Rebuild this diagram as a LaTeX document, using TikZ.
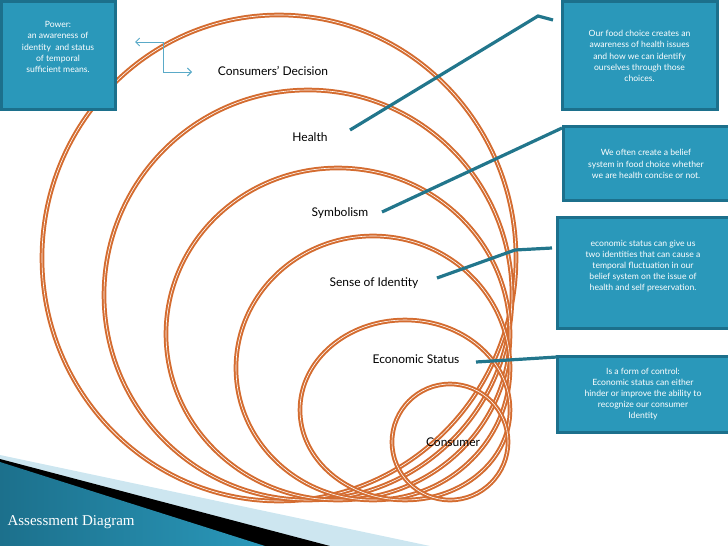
\documentclass[tikz,border=0pt]{standalone}
\usepackage{fontspec}
\setmainfont{Lato}
\usetikzlibrary{arrows.meta}
\definecolor{orng}{RGB}{212,108,48}
\definecolor{teal1}{RGB}{42,152,186}
\definecolor{teal2}{RGB}{28,112,140}
\definecolor{lnk}{RGB}{34,118,140}
\definecolor{arr}{RGB}{90,170,200}
\definecolor{lb}{RGB}{205,230,240}
\begin{document}
\begin{tikzpicture}[x=1pt,y=-1pt,
  ring/.style={draw=orng,line width=2pt,double=white,double distance=0.6pt},
  lbl/.style={font=\fontsize{12}{14}\selectfont,text=black},
  frame/.style={fill=teal1,draw=teal2,line width=3pt},
  btxt/.style={text=white,align=center,font=\fontsize{8.6}{11.2}\selectfont},
  link/.style={draw=lnk,line width=3.2pt}]
\useasboundingbox (0,0) rectangle (728,546);
% banner
\fill[lb] (0,455) -- (430,546) -- (0,546) -- cycle;
\fill[black] (0,459) -- (330,546) -- (0,546) -- cycle;
\shade[left color=teal2,right color=teal1] (0,462) -- (265,546) -- (0,546) -- cycle;
\node[text=white,font=\fontsize{15}{17}\selectfont,anchor=west] (title) at (4,522) {\setmainfont{Liberation Serif}\selectfont Assessment Diagram};
% rings
\draw[ring] (279,258) ellipse [x radius=237,y radius=243];
\draw[ring] (308,295) ellipse [x radius=204,y radius=205];
\draw[ring] (338,334) ellipse [x radius=172,y radius=166];
\draw[ring] (373,368) ellipse [x radius=137,y radius=132];
\draw[ring] (405,410) ellipse [x radius=105,y radius=90];
\draw[ring] (450,442) ellipse [x radius=58,y radius=58];
% labels
\node[lbl] (cd) at (273,71) {Consumers' Decision};
\node[lbl] (he) at (310,137) {Health};
\node[lbl] (sy) at (340,213) {Symbolism};
\node[lbl] (si) at (374,283) {Sense of Identity};
\node[lbl] (es) at (416,359) {Economic Status};
\node[lbl] (co) at (453,442) {Consumer};
% boxes
\draw[frame] (1.5,1.5) rectangle (115,109);
\node[btxt] (b0) at (58,47) {Power:\\ an awareness of\\ identity~ and status\\ of temporal\\ sufficient means.};
\draw[frame] (562,1.5) rectangle (717,109);
\node[btxt] (b1) at (639.5,56) {Our food choice creates an\\ awareness of health issues\\ and how we can identify\\ ourselves through those\\ choices.};
\draw[frame] (563,126) rectangle (729,200);
\node[btxt] (b2) at (646,164) {We often create a belief\\ system in food choice whether\\ we are health concise or not.};
\draw[frame] (557,217) rectangle (729,328);
\node[btxt] (b3) at (643,266) {economic status can give us\\ two identities that can cause a\\ temporal fluctuation in our\\ belief system on the issue of\\ health and self preservation.};
\draw[frame] (557,356) rectangle (729,432);
\node[btxt] (b4) at (643,394) {Is a form of control:\\ Economic status can either\\ hinder or improve the ability to\\ recognize our consumer\\ Identity};
% links
\coordinate (h0) at (350,130); \coordinate (h1) at (538,16); \coordinate (h2) at (553,20);
\draw[link] (h0) -- (h1) -- (h2);
\coordinate (s0) at (382,212); \coordinate (s1) at (562,128);
\draw[link] (s0) -- (s1);
\coordinate (i0) at (437,278); \coordinate (i1) at (515,250); \coordinate (i2) at (552,248);
\draw[link] (i0) -- (i1) -- (i2);
\coordinate (e0) at (476,362); \coordinate (e1) at (557,357);
\draw[link] (e0) -- (e1);
% arrow
\coordinate (a0) at (135,42); \coordinate (a1) at (163,42); \coordinate (a2) at (163,72); \coordinate (a3) at (192,72);
\draw[arr,line width=0.9pt,{Straight Barb[length=4pt,width=8pt]}-{Straight Barb[length=4pt,width=8pt]}] (a0) -- (a1) -- (a2) -- (a3);
\end{tikzpicture}
\end{document}
